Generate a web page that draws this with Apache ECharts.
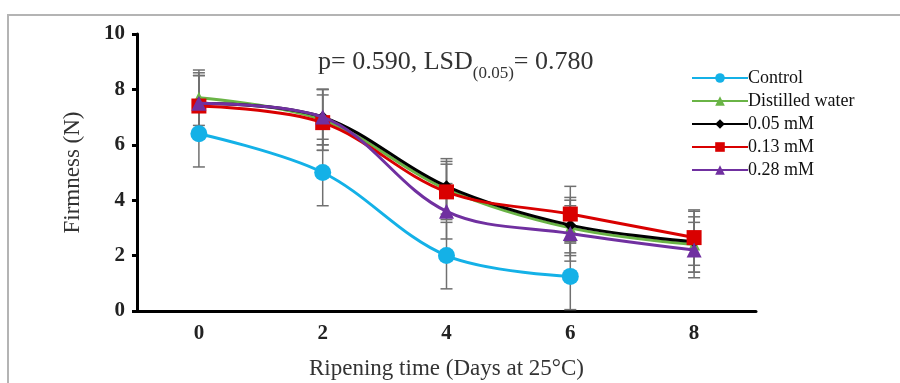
<!DOCTYPE html>
<html>
<head>
<meta charset="utf-8">
<script src="https://cdn.jsdelivr.net/npm/echarts@6/dist/echarts.min.js"></script>
<style>
  html, body { margin: 0; padding: 0; background: #fff; }
  #chart { width: 900px; height: 383px; }
</style>
</head>
<body>
<div id="chart"></div>
<script>
// ripening days (x axis)
var days = ['0', '2', '4', '6', '8'];
var yTicks = [0, 2, 4, 6, 8, 10];

// firmness means (N)
var control   = [6.4, 5.0, 2.0, 1.25, null];
var distilled = [7.7, 6.9, 4.4, 3.0, 2.4];
var mm005     = [7.5, 7.0, 4.5, 3.1, 2.5];
var mm013     = [7.4, 6.8, 4.3, 3.5, 2.65];
var mm028     = [7.5, 7.0, 3.6, 2.8, 2.2];

// error bar half-widths
var controlErr   = [1.2, 1.2, 1.2, 1.2, null];
var distilledErr = [1.0, 1.1, 1.0, 1.0, 1.0];
var mm005Err     = [1.1, 1.0, 1.0, 1.0, 1.1];
var mm013Err     = [1.1, 1.0, 1.0, 1.0, 1.0];
var mm028Err     = [1.0, 1.0, 1.0, 1.0, 1.0];

var seriesDefs = [
  { name: 'Control',         data: control,   err: controlErr,   color: '#14b1e7', symbol: 'circle',   size: 17 },
  { name: 'Distilled water', data: distilled, err: distilledErr, color: '#6ab446', symbol: 'triangle', size: 12 },
  { name: '0.05 mM',         data: mm005,     err: mm005Err,     color: '#000000', symbol: 'diamond',  size: 12 },
  { name: '0.13 mM',         data: mm013,     err: mm013Err,     color: '#d90000', symbol: 'rect',     size: 15 },
  { name: '0.28 mM',         data: mm028,     err: mm028Err,     color: '#7030a0', symbol: 'triangle', size: 15 }
];

var serif = '"Liberation Serif", "DejaVu Serif", serif';
var myChart = echarts.init(document.getElementById('chart'));

// error bars: one custom series per group, drawn behind the lines
function errSeries(def) {
  var rows = [];
  def.data.forEach(function (v, i) {
    if (v != null) rows.push([i, v - def.err[i], v + def.err[i]]);
  });
  return {
    type: 'custom',
    name: def.name + ' err',
    data: rows,
    z: 1,
    silent: true,
    renderItem: function (params, api) {
      var lo = api.coord([api.value(0), api.value(1)]);
      var hi = api.coord([api.value(0), api.value(2)]);
      var w = 6;
      var st = { stroke: '#707070', lineWidth: 1.5 };
      return {
        type: 'group',
        children: [
          { type: 'line', shape: { x1: hi[0], y1: hi[1], x2: lo[0], y2: lo[1] }, style: st },
          { type: 'line', shape: { x1: hi[0] - w, y1: hi[1], x2: hi[0] + w, y2: hi[1] }, style: st },
          { type: 'line', shape: { x1: lo[0] - w, y1: lo[1], x2: lo[0] + w, y2: lo[1] }, style: st }
        ]
      };
    }
  };
}

var series = [];
seriesDefs.forEach(function (d) { series.push(errSeries(d)); });
seriesDefs.forEach(function (d, k) {
  series.push({
    type: 'line',
    name: d.name,
    data: d.data,
    smooth: 0.35,
    z: 3 + k,
    symbol: d.symbol,
    symbolSize: d.size,
    connectNulls: false,
    itemStyle: { color: d.color },
    lineStyle: { color: d.color, width: 3 }
  });
});

var option = {
  animation: false,
  backgroundColor: '#fff',
  grid: { left: 137, right: 144, top: 34, bottom: 72, outerBoundsMode: 'none' },
  xAxis: {
    type: 'category',
    data: days,
    boundaryGap: true,
    name: 'Ripening time (Days at 25°C)',
    nameLocation: 'middle',
    nameGap: 46,
    nameTextStyle: { fontFamily: serif, fontSize: 23, color: '#333' },
    axisLine: { lineStyle: { color: '#000', width: 3 } },
    axisTick: { alignWithLabel: true, length: 5, lineStyle: { color: '#000', width: 3 } },
    axisLabel: { fontFamily: serif, fontSize: 21, fontWeight: 'bold', color: '#222', margin: 12 },
    splitLine: { show: false }
  },
  yAxis: {
    type: 'value',
    min: yTicks[0],
    max: yTicks[yTicks.length - 1],
    interval: 2,
    name: 'Firmness (N)',
    nameLocation: 'middle',
    nameGap: 53,
    nameTextStyle: { fontFamily: serif, fontSize: 23, color: '#333' },
    axisLine: { show: true, lineStyle: { color: '#000', width: 3 } },
    axisTick: { show: true, length: 5, lineStyle: { color: '#000', width: 3 } },
    axisLabel: { fontFamily: serif, fontSize: 21, fontWeight: 'bold', color: '#222', margin: 12 },
    splitLine: { show: false }
  },
  legend: {
    data: seriesDefs.map(function (d) { return d.name; }),
    orient: 'vertical',
    left: 686,
    top: 64,
    itemWidth: 56,
    itemHeight: 12,
    itemGap: 5,
    textStyle: { fontFamily: serif, fontSize: 18, lineHeight: 18, color: '#111', padding: [0, 0, 0, -5] }
  },
  graphic: [
    {
      type: 'rect',
      shape: { x: 8, y: 15, width: 1000, height: 500 },
      style: { fill: 'none', stroke: '#b4b4b4', lineWidth: 2 },
      silent: true
    },
    {
      type: 'text',
      left: 318,
      top: 49,
      style: {
        text: '{a|p= 0.590, LSD}{s|(0.05)}{a|= 0.780}',
        rich: {
          a: { fontFamily: serif, fontSize: 26, fill: '#333', verticalAlign: 'bottom' },
          s: { fontFamily: serif, fontSize: 17, fill: '#333', verticalAlign: 'bottom', padding: [0, 0, -7, 0] }
        }
      }
    }
  ],
  series: series
};

myChart.setOption(option);
</script>
</body>
</html>
